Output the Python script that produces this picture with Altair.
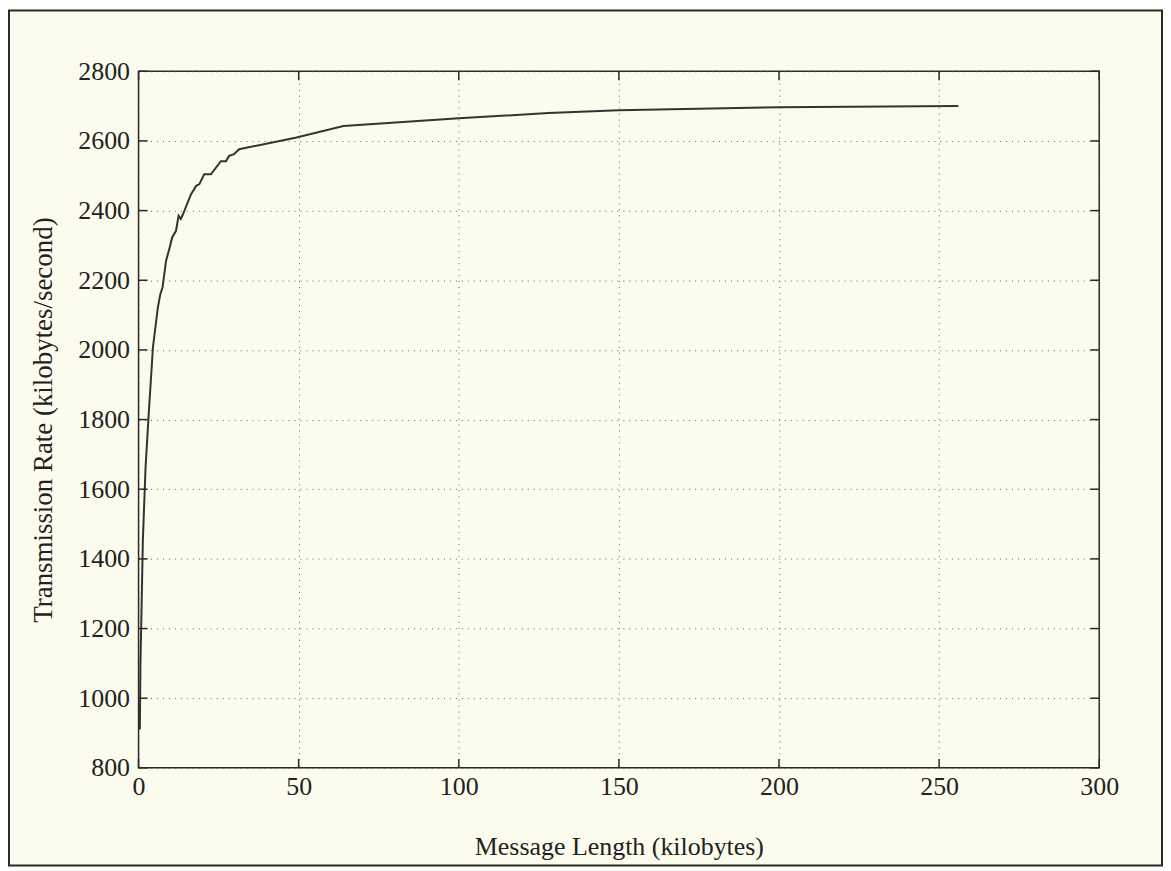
import altair as alt
import pandas as pd

# Data
msg_kb = [0.4, 0.6, 0.9, 1.35, 2.2, 3.2, 4.5, 6.0, 6.8, 7.5, 8.6, 9.6, 10.5, 11.7,
          12.5, 13.2, 13.8, 16.4, 18.0, 19.0, 20.5, 22.6, 25.7, 27.3, 28.3, 29.8,
          31.4, 49.0, 64.0, 100.0, 128.0, 150.0, 200.0, 256.0]
rate = [910, 1100, 1240, 1455, 1665, 1820, 2008, 2120, 2160, 2180, 2256, 2290,
        2323, 2342, 2385, 2376, 2388, 2447, 2471, 2476, 2504, 2504, 2542, 2542,
        2557, 2562, 2576, 2609, 2643, 2665, 2680, 2688, 2697, 2700]

x_ticks = [0, 50, 100, 150, 200, 250, 300]
y_ticks = [800, 1000, 1200, 1400, 1600, 1800, 2000, 2200, 2400, 2600, 2800]

W, H = 964, 699
PL, PT, PR, PB = 131, 62, 64, 99
FONT = "Liberation Serif"
INK = "#2a2a2a"

df = pd.DataFrame({"x": msg_kb, "y": rate})
xt = pd.DataFrame({"x": x_ticks})
yt = pd.DataFrame({"y": y_ticks})

xs = alt.Scale(domain=[0, 300], nice=False, zero=False)
ys = alt.Scale(domain=[800, 2800], nice=False, zero=False)

line = alt.Chart(df).mark_line(color="#333333", strokeWidth=2).encode(
    x=alt.X("x:Q", scale=xs,
            axis=alt.Axis(title="Message Length (kilobytes)", values=x_ticks,
                          format="d", labelFlush=False,
                          ticks=False, domain=False, labelPadding=6,
                          titleFontSize=26, titlePadding=34, grid=True)),
    y=alt.Y("y:Q", scale=ys,
            axis=alt.Axis(title="Transmission Rate (kilobytes/second)", values=y_ticks,
                          format="d", labelFlush=False,
                          ticks=False, domain=False, labelPadding=9,
                          titleFontSize=27, titlePadding=20, grid=True)),
)

yl = alt.Chart(yt).mark_rule(color=INK, strokeWidth=1.5).encode(
    y=alt.Y("y:Q", scale=ys), x=alt.value(0), x2=alt.value(9))
yr = alt.Chart(yt).mark_rule(color=INK, strokeWidth=1.5).encode(
    y=alt.Y("y:Q", scale=ys), x=alt.value(W), x2=alt.value(W - 9))
xb = alt.Chart(xt).mark_rule(color=INK, strokeWidth=1.5).encode(
    x=alt.X("x:Q", scale=xs), y=alt.value(H), y2=alt.value(H - 9))
xtp = alt.Chart(xt).mark_rule(color=INK, strokeWidth=1.5).encode(
    x=alt.X("x:Q", scale=xs), y=alt.value(0), y2=alt.value(9))

frame = alt.Chart(pd.DataFrame({"f": [0]})).mark_rect(
    fill=None, stroke=INK, strokeWidth=2, clip=False).encode(
    x=alt.value(-PL + 1), x2=alt.value(W + PR - 1),
    y=alt.value(-PT + 1), y2=alt.value(H + PB - 1))

chart = alt.layer(frame, line, yl, yr, xb, xtp).properties(
    width=W, height=H,
    autosize=alt.AutoSizeParams(type="none"),
    padding={"left": PL, "top": PT, "right": PR, "bottom": PB},
    background="#fcfcee",
).configure_view(
    stroke=INK, strokeWidth=1.5
).configure_axis(
    labelFont=FONT, titleFont=FONT, labelFontSize=26,
    labelColor="#222", titleColor="#222", titleFontWeight="normal",
    gridColor="#555555", gridDash=[1, 5], gridWidth=1, gridOpacity=0.9,
)

chart.save("out.html", embed_options={"renderer": "svg", "actions": False})
